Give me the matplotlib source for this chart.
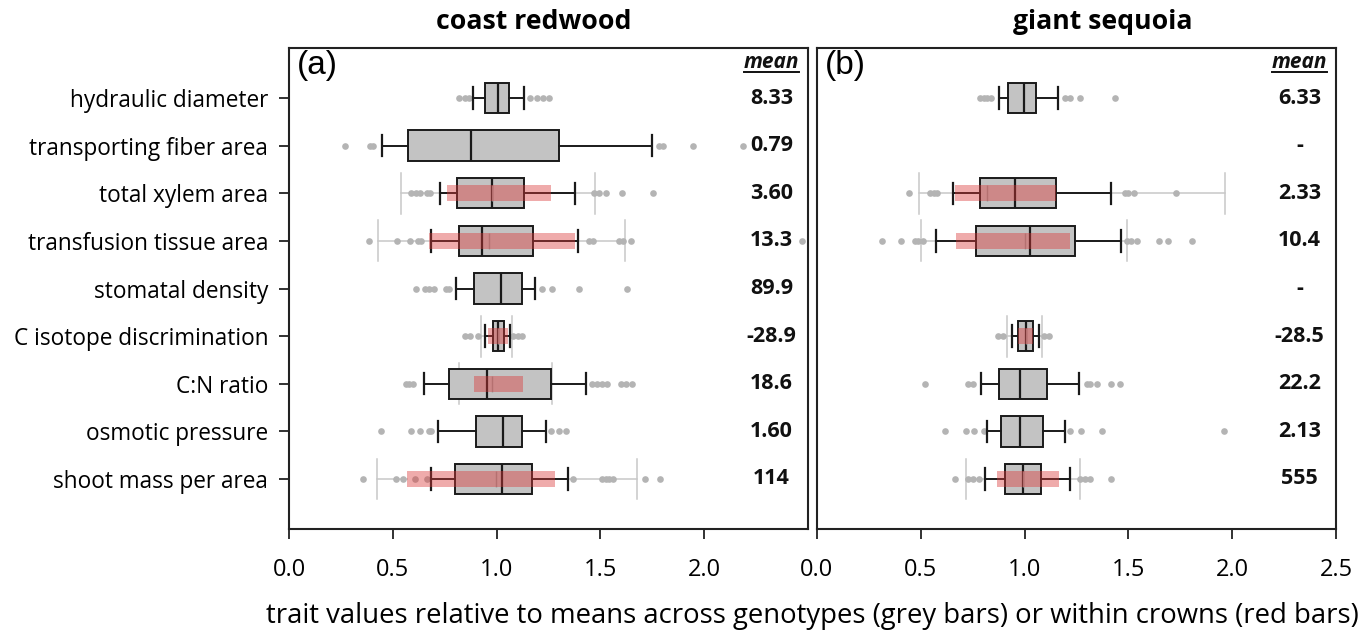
import numpy as np
import matplotlib
matplotlib.use("Agg")
import matplotlib.pyplot as plt

plt.rcParams['font.family'] = ['Open Sans', 'DejaVu Sans']

traits = ["hydraulic diameter", "transporting fiber area", "total xylem area",
          "transfusion tissue area", "stomatal density", "C isotope discrimination",
          "C:N ratio", "osmotic pressure", "shoot mass per area"]
panel_titles = ["coast redwood", "giant sequoia"]
panel_tags = ["(a)", "(b)"]
N = np.nan

# ---- coast redwood: across genotypes (grey boxes)
a_whislo = [0.887, 0.449, 0.728, 0.682, 0.805, 0.942, 0.650, 0.718, 0.683]
a_q1     = [0.942, 0.575, 0.809, 0.817, 0.892, 0.983, 0.771, 0.900, 0.801]
a_med    = [1.007, 0.876, 0.980, 0.929, 1.020, 1.006, 0.953, 1.031, 1.025]
a_q3     = [1.061, 1.302, 1.131, 1.174, 1.120, 1.036, 1.260, 1.122, 1.172]
a_whishi = [1.131, 1.750, 1.377, 1.390, 1.186, 1.065, 1.430, 1.236, 1.343]
a_fliers = [
    [0.817, 0.846, 0.867, 1.161, 1.194, 1.222, 1.252],
    [0.270, 0.390, 0.406, 1.783, 1.800, 1.946, 2.189],
    [0.589, 0.613, 0.630, 0.663, 0.680, 1.468, 1.493, 1.526, 1.603, 1.753],
    [0.384, 0.519, 0.585, 0.622, 0.638, 1.443, 1.464, 1.592, 1.609, 1.647, 2.470],
    [0.613, 0.655, 0.672, 0.697, 0.754, 0.771, 1.219, 1.269, 1.396, 1.629],
    [0.846, 0.871, 0.912, 1.078, 1.103, 1.120],
    [0.564, 0.580, 0.597, 1.460, 1.484, 1.509, 1.534, 1.600, 1.625, 1.650],
    [0.443, 0.589, 0.630, 0.672, 0.685, 1.260, 1.302, 1.335],
    [0.356, 0.514, 0.547, 0.605, 0.663, 1.368, 1.509, 1.526, 1.542, 1.559, 1.713, 1.786],
]
# ---- coast redwood: within crowns (red boxes)
a_wc_lo  = [N, N, 0.540, 0.431, N, 0.925, 0.817, N, 0.426]
a_wc_q1  = [N, N, 0.762, 0.675, N, 0.957, 0.892, N, 0.567]
a_wc_med = [N, N, 0.980, 0.965, N, 1.006, 0.978, N, 0.995]
a_wc_q3  = [N, N, 1.260, 1.377, N, 1.053, 1.128, N, 1.282]
a_wc_hi  = [N, N, 1.476, 1.620, N, 1.075, 1.266, N, 1.678]
a_means  = ["8.33", "0.79", "3.60", "13.3", "89.9", "-28.9", "18.6", "1.60", "114"]

# ---- giant sequoia: across genotypes (grey boxes)
b_whislo = [0.878, N, 0.657, 0.574, N, 0.939, 0.791, 0.820, 0.810]
b_q1     = [0.922, N, 0.787, 0.767, N, 0.966, 0.878, 0.886, 0.906]
b_med    = [0.997, N, 0.956, 1.027, N, 1.005, 0.979, 0.979, 0.994]
b_q3     = [1.055, N, 1.151, 1.243, N, 1.040, 1.110, 1.089, 1.079]
b_whishi = [1.163, N, 1.414, 1.463, N, 1.068, 1.263, 1.196, 1.221]
b_fliers = [
    [0.787, 0.803, 0.820, 0.836, 1.193, 1.218, 1.268, 1.434],
    [],
    [0.442, 0.546, 0.563, 0.579, 1.483, 1.500, 1.525, 1.729],
    [0.314, 0.405, 0.472, 0.488, 0.513, 1.491, 1.513, 1.541, 1.649, 1.691, 1.807],
    [],
    [0.870, 0.895, 1.093, 1.119],
    [0.521, 0.728, 0.753, 1.301, 1.317, 1.351, 1.414, 1.459],
    [0.618, 0.720, 0.757, 0.803, 1.218, 1.273, 1.372, 1.959],
    [0.666, 0.728, 0.753, 0.778, 1.268, 1.292, 1.317, 1.417],
]
# ---- giant sequoia: within crowns (red boxes)
b_wc_lo  = [N, N, 0.493, 0.501, N, 0.914, N, N, 0.720]
b_wc_q1  = [N, N, 0.667, 0.671, N, 0.969, N, N, 0.865]
b_wc_med = [N, N, 0.820, 1.002, N, 1.005, N, N, 0.990]
b_wc_q3  = [N, N, 1.151, 1.218, N, 1.040, N, N, 1.168]
b_wc_hi  = [N, N, 1.964, 1.491, N, 1.082, N, N, 1.268]
b_means  = ["6.33", "-", "2.33", "10.4", "-", "-28.5", "22.2", "2.13", "555"]

xticks_a = [0.0, 0.5, 1.0, 1.5, 2.0]
xticks_b = [0.0, 0.5, 1.0, 1.5, 2.0, 2.5]
xlabel = "trait values relative to means across genotypes (grey bars) or within crowns (red bars)"

panels = [
    dict(lo=a_whislo, q1=a_q1, med=a_med, q3=a_q3, hi=a_whishi, fl=a_fliers,
         wlo=a_wc_lo, wq1=a_wc_q1, wmed=a_wc_med, wq3=a_wc_q3, whi=a_wc_hi,
         means=a_means, xt=xticks_a),
    dict(lo=b_whislo, q1=b_q1, med=b_med, q3=b_q3, hi=b_whishi, fl=b_fliers,
         wlo=b_wc_lo, wq1=b_wc_q1, wmed=b_wc_med, wq3=b_wc_q3, whi=b_wc_hi,
         means=b_means, xt=xticks_b),
]

W, H = 1369, 639
fig = plt.figure(figsize=(W / 100, H / 100), dpi=100)
ax_a = fig.add_axes([289 / W, 1 - 529 / H, 519 / W, 481 / H])
ax_b = fig.add_axes([817 / W, 1 - 529 / H, 519 / W, 481 / H])
axes = [ax_a, ax_b]
title_x = [0.472, 0.551]

pos_all = np.arange(1, len(traits) + 1)
for k, (ax, p) in enumerate(zip(axes, panels)):
    # within-crown boxes
    wstats, wpos = [], []
    for i in range(len(traits)):
        if not np.isnan(p['wq1'][i]):
            wstats.append(dict(whislo=p['wlo'][i], q1=p['wq1'][i], med=p['wmed'][i],
                               q3=p['wq3'][i], whishi=p['whi'][i], fliers=[]))
            wpos.append(pos_all[i])
    wb = ax.bxp(wstats, positions=wpos, orientation='horizontal', widths=0.33,
                capwidths=0.86, patch_artist=True, showfliers=False,
                boxprops=dict(facecolor=(0.86, 0.22, 0.22, 0.42), edgecolor='none', linewidth=0),
                whiskerprops=dict(color='#c8c8c8', linewidth=1.1),
                capprops=dict(color='#c8c8c8', linewidth=1.1),
                medianprops=dict(color='#9a9a9a', linewidth=1.0),
                manage_ticks=False)
    for art in wb['whiskers'] + wb['caps']:
        art.set_zorder(1.0)
    for art in wb['boxes']:
        art.set_zorder(3.0)
    for art in wb['medians']:
        art.set_zorder(2.5)

    # across-genotype grey boxes
    stats, gpos = [], []
    for i in range(len(traits)):
        if not np.isnan(p['q1'][i]):
            stats.append(dict(whislo=p['lo'][i], q1=p['q1'][i], med=p['med'][i],
                              q3=p['q3'][i], whishi=p['hi'][i], fliers=p['fl'][i]))
            gpos.append(pos_all[i])
    gb = ax.bxp(stats, positions=gpos, orientation='horizontal', widths=0.64,
                capwidths=0.45, patch_artist=True, showfliers=True,
                boxprops=dict(facecolor='#c3c3c3', edgecolor='#1a1a1a', linewidth=1.4),
                whiskerprops=dict(color='#1a1a1a', linewidth=1.4),
                capprops=dict(color='#1a1a1a', linewidth=1.6),
                medianprops=dict(color='#1a1a1a', linewidth=1.6),
                flierprops=dict(marker='o', markerfacecolor='#b4b4b4',
                                markeredgecolor='none', markersize=4.8),
                manage_ticks=False)
    for art in gb['boxes']:
        art.set_zorder(2.0)
    for art in gb['whiskers'] + gb['caps']:
        art.set_zorder(2.2)
    for art in gb['medians']:
        art.set_zorder(2.4)
    for art in gb['fliers']:
        art.set_zorder(1.5)

    # means column
    for i, m in enumerate(p['means']):
        ax.text(2.325, pos_all[i], m, ha='center', va='center',
                fontsize=15.5, fontweight='bold', color='#111111')
    mt = ax.text(2.325, 0.25, "mean", ha='center', va='center', fontsize=15,
                 fontweight='bold', fontstyle='italic', color='#111111')
    p['mean_text'] = mt

    ax.text(0.016, 0.995, panel_tags[k], transform=ax.transAxes, ha='left', va='top',
            fontsize=24, family=['Liberation Sans', 'DejaVu Sans'])
    ax.text(title_x[k], 1 + 26 / 481, panel_titles[k], transform=ax.transAxes,
            ha='center', va='center', fontsize=19.2, fontweight='bold')

    ax.set_xlim(0, 2.5)
    ax.set_ylim(10.05, -0.05)
    ax.set_xticks(p['xt'])
    ax.set_xticklabels([f"{t:.1f}" for t in p['xt']], fontsize=17)
    if k == 0:
        ax.set_yticks(pos_all)
        ax.set_yticklabels(traits, fontsize=16.3)
    else:
        ax.set_yticks([])
    ax.tick_params(axis='both', direction='out', length=7, width=1.3, color='#222222')
    ax.tick_params(axis='x', pad=14)
    ax.tick_params(axis='y', pad=8)
    for s in ax.spines.values():
        s.set_linewidth(1.5)
        s.set_color('#222222')

fig.text(812 / W, 1 - 616 / H, xlabel, ha='center', va='center', fontsize=19.8)

# underline the "mean" headers
fig.canvas.draw()
r = fig.canvas.get_renderer()
inv = fig.transFigure.inverted()
for ax, p in zip(axes, panels):
    bb = p['mean_text'].get_window_extent(renderer=r)
    (x0, y0) = inv.transform((bb.x0, bb.y0 + 1))
    (x1, _) = inv.transform((bb.x1, bb.y0 + 1))
    fig.add_artist(plt.Line2D([x0, x1], [y0, y0], transform=fig.transFigure,
                              color='#111111', linewidth=1.4))

fig.savefig("out.png", dpi=100)
